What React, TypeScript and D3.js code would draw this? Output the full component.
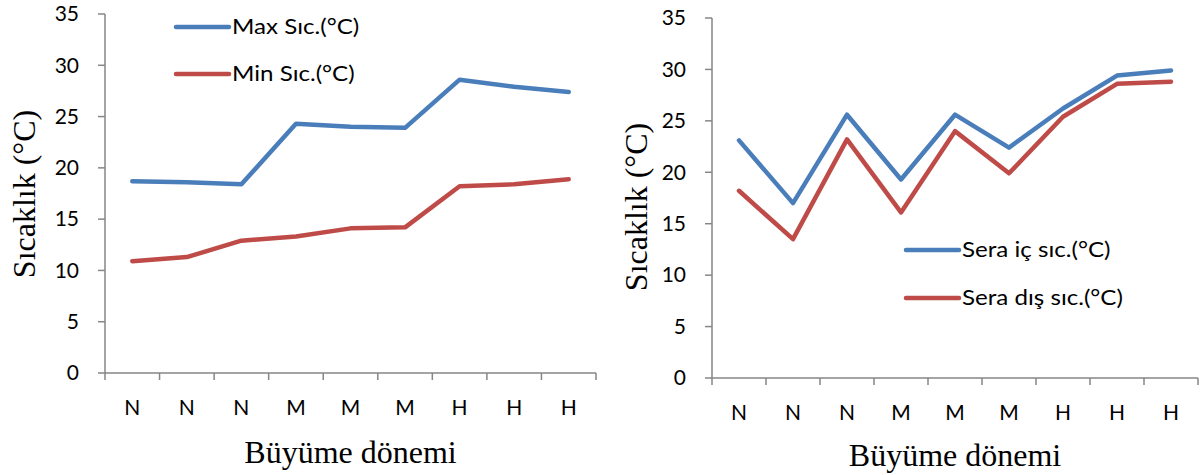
import React from "react";
import * as d3 from "d3";

const categories = ["N", "N", "N", "M", "M", "M", "H", "H", "H"];
const yTicks = [0, 5, 10, 15, 20, 25, 30, 35];

const leftSeriesNames = ["Max Sıc.(°C)", "Min Sıc.(°C)"];
const leftMax = [18.7, 18.6, 18.4, 24.3, 24.0, 23.9, 28.6, 27.9, 27.4];
const leftMin = [10.9, 11.3, 12.9, 13.3, 14.1, 14.2, 18.2, 18.4, 18.9];

const rightSeriesNames = ["Sera iç sıc.(°C)", "Sera dış sıc.(°C)"];
const rightInside = [23.1, 17.0, 25.6, 19.3, 25.6, 22.4, 26.2, 29.4, 29.9];
const rightOutside = [18.2, 13.5, 23.2, 16.1, 24.0, 19.9, 25.4, 28.6, 28.8];

const xTitle = "Büyüme dönemi";
const yTitle = "Sıcaklık (°C)";

const BLUE = "#4a7ebb";
const RED = "#be4b48";
const AXIS = "#868686";
const SANS = "Lato, 'Open Sans', sans-serif";
const SERIF = "'Liberation Serif', 'Times New Roman', serif";

type ChartProps = {
  x0: number;
  x1: number;
  yTop: number;
  yBottom: number;
  series: number[][];
  names: string[];
  legendX: number;
  legendY: number;
  legendGap: number;
  xLabelY: number;
  xTitleY: number;
  yTitleX: number;
  yTitleY: number;
};

function Chart(p: ChartProps) {
  const x = d3.scaleBand<number>().domain(categories.map((_, i) => i)).range([p.x0, p.x1]);
  const y = d3.scaleLinear().domain([0, 35]).range([p.yBottom, p.yTop]);
  const line = d3
    .line<number>()
    .x((_, i) => (x(i) as number) + x.bandwidth() / 2)
    .y((d) => y(d));
  const colors = [BLUE, RED];
  const boundaries = d3.range(categories.length + 1).map((i) => p.x0 + i * x.bandwidth());
  return (
    <g>
      <line x1={p.x0} x2={p.x0} y1={p.yTop} y2={p.yBottom} stroke={AXIS} strokeWidth={1.5} />
      <line x1={p.x0} x2={p.x1} y1={p.yBottom} y2={p.yBottom} stroke={AXIS} strokeWidth={1.5} />
      {yTicks.map((t) => (
        <g key={t}>
          <line x1={p.x0 - 7} x2={p.x0} y1={y(t)} y2={y(t)} stroke={AXIS} strokeWidth={1.5} />
          <text x={p.x0 - 26} y={y(t)} dy="0.35em" textAnchor="end" fontFamily={SANS} fontSize={21} fill="#000">
            {t}
          </text>
        </g>
      ))}
      {boundaries.map((bx, i) => (
        <line key={i} x1={bx} x2={bx} y1={p.yBottom} y2={p.yBottom + 7} stroke={AXIS} strokeWidth={1.5} />
      ))}
      {categories.map((c, i) => (
        <text
          key={i}
          x={(x(i) as number) + x.bandwidth() / 2}
          y={p.xLabelY}
          dy="0.35em"
          textAnchor="middle"
          fontFamily={SANS}
          fontSize={21}
          fill="#000"
        >
          {c}
        </text>
      ))}
      {p.series.map((s, k) => (
        <path key={k} d={line(s) || ""} fill="none" stroke={colors[k]} strokeWidth={4.5} strokeLinejoin="round" strokeLinecap="round" />
      ))}
      {p.names.map((n, k) => (
        <g key={n}>
          <line
            x1={p.legendX}
            x2={p.legendX + 53}
            y1={p.legendY + k * p.legendGap}
            y2={p.legendY + k * p.legendGap}
            stroke={colors[k]}
            strokeWidth={4.5}
            strokeLinecap="round"
          />
          <text
            transform={`translate(${p.legendX + 56},${p.legendY + k * p.legendGap}) scale(1.15,1)`}
            dy="0.35em"
            fontFamily={SANS}
            fontSize={21}
            fill="#000"
          >
            {n}
          </text>
        </g>
      ))}
      <text x={(p.x0 + p.x1) / 2} y={p.xTitleY} dy="0.35em" textAnchor="middle" fontFamily={SERIF} fontSize={32} fill="#000">
        {xTitle}
      </text>
      <text
        transform={`translate(${p.yTitleX},${p.yTitleY}) rotate(-90)`}
        dy="0.35em"
        textAnchor="middle"
        fontFamily={SERIF}
        fontSize={32}
        fill="#000"
      >
        {yTitle}
      </text>
    </g>
  );
}

export default function App() {
  return (
    <svg width={1200} height={475} style={{ position: "absolute", left: 0, top: 0, background: "#fff" }}>
      <rect width={1200} height={475} fill="#fff" />
      <Chart
        x0={105}
        x1={596}
        yTop={14}
        yBottom={373}
        series={[leftMax, leftMin]}
        names={leftSeriesNames}
        legendX={176}
        legendY={27}
        legendGap={47}
        xLabelY={408}
        xTitleY={452}
        yTitleX={24}
        yTitleY={194}
      />
      <Chart
        x0={712}
        x1={1198}
        yTop={18}
        yBottom={378}
        series={[rightInside, rightOutside]}
        names={rightSeriesNames}
        legendX={906}
        legendY={250}
        legendGap={48}
        xLabelY={413}
        xTitleY={455}
        yTitleX={636}
        yTitleY={207}
      />
    </svg>
  );
}
